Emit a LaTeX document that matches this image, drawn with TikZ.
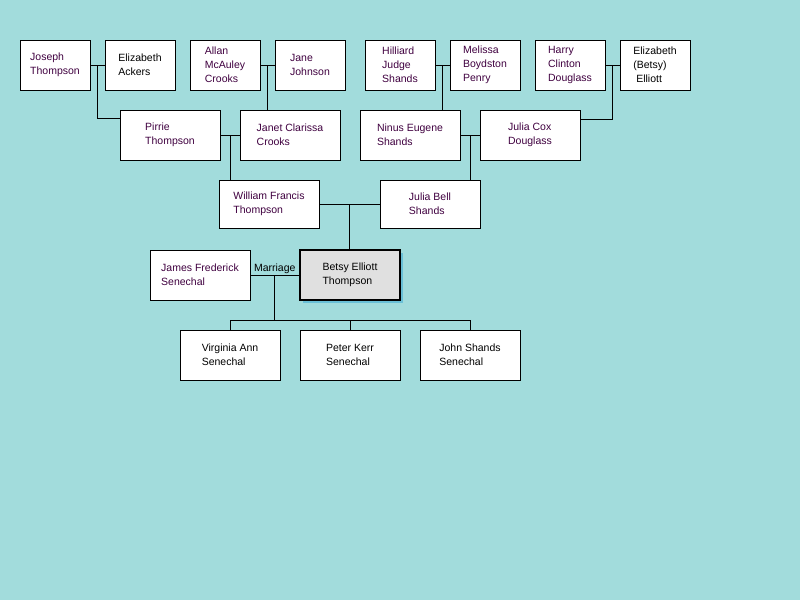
\documentclass[tikz,border=0pt]{standalone}
\usepackage{fontspec}
\setmainfont{Liberation Sans}
\usepackage{tikz}
\usetikzlibrary{positioning,calc,shadows}
\definecolor{bgteal}{RGB}{162,220,220}
\definecolor{namepurple}{RGB}{64,0,64}
\definecolor{shadowblue}{RGB}{100,190,215}

\begin{document}
\begin{tikzpicture}[
    x=1pt, y=-1pt,
    font=\fontsize{10.5}{14}\selectfont,
    person/.style={draw, fill=white, line width=1pt, align=left, minimum width=100pt, minimum height=50pt, inner sep=2pt, text=namepurple},
    elder/.style={person, minimum width=70pt},
    focus/.style={person, fill={rgb,255:red,224;green,224;blue,224}, line width=2pt, text=black,
        drop shadow={shadow xshift=3pt, shadow yshift=-3pt, fill=shadowblue, opacity=0.9}},
    link/.style={line width=1pt}
]
\fill[bgteal] (0,0) rectangle (800,600);
\useasboundingbox (0,0) rectangle (800,600);

% great-grandparents
\node[elder] (joseph) at (55,65) {Joseph\\Thompson};
\node[elder, text=black] (ackers) at (140,65) {Elizabeth\\Ackers};
\node[elder] (allan) at (225,65) {Allan\\McAuley\\Crooks};
\node[elder] (jane) at (310,65) {Jane\\Johnson};
\node[elder] (hilliard) at (400,65) {Hilliard\\Judge\\Shands};
\node[elder] (melissa) at (485,65) {Melissa\\Boydston\\Penry};
\node[elder] (harry) at (570,65) {Harry\\Clinton\\Douglass};
\node[elder, text=black] (elliott) at (655,65) {Elizabeth\\(Betsy)\\\ Elliott};

% grandparents
\node[person] (pirrie) at (170,135) {Pirrie\\Thompson};
\node[person] (janet) at (290,135) {Janet Clarissa\\Crooks};
\node[person] (ninus) at (410,135) {Ninus Eugene\\Shands};
\node[person] (juliacox) at (530,135) {Julia Cox\\Douglass};

% parents
\node[person, minimum height=48pt] (william) at (269,204) {William Francis\\Thompson};
\node[person, minimum height=48pt] (juliabell) at (430,204) {Julia Bell\\Shands};

% couple
\node[person] (james) at (200,275) {James Frederick\\Senechal};
\node[focus] (betsy) at (350,275) {Betsy Elliott\\Thompson};

% children
\node[person, text=black] (virginia) at (230,355) {Virginia Ann\\Senechal};
\node[person, text=black] (peter) at (350,355) {Peter Kerr\\Senechal};
\node[person, text=black] (john) at (470,355) {John Shands\\Senechal};

% marriages
\coordinate (m1) at ($(joseph.east)!0.5!(ackers.west)$);
\coordinate (m2) at ($(allan.east)!0.5!(jane.west)$);
\coordinate (m3) at ($(hilliard.east)!0.5!(melissa.west)$);
\coordinate (m4) at ($(harry.east)!0.5!(elliott.west)$);
\coordinate (m5) at ($(pirrie.east)!0.5!(janet.west)$);
\coordinate (m6) at ($(ninus.east)!0.5!(juliacox.west)$);
\coordinate (m7) at ($(william.east)!0.5!(juliabell.west)$);
\coordinate (m8) at ($(james.east)!0.5!(betsy.west)$);
\coordinate (bus) at ($(m8)+(0,45)$);

\foreach \a/\b in {joseph/ackers, allan/jane, hilliard/melissa, harry/elliott,
    pirrie/janet, ninus/juliacox, william/juliabell, james/betsy}
  \draw[link] (\a.east) -- (\b.west);

\draw[link] (m1) |- ([yshift=17pt]pirrie.west);
\draw[link] (m2) -- (m2 |- janet.north);
\draw[link] (m3) -- (m3 |- ninus.north);
\draw[link] (m4) |- ([yshift=16pt]juliacox.east);
\draw[link] (m5) -- (m5 |- william.north);
\draw[link] (m6) -- (m6 |- juliabell.north);
\draw[link] (m7) -- (m7 |- betsy.north);
\draw[link] (m8) -- (bus);
\draw[link] (virginia.north |- bus) -- (john.north |- bus);
\foreach \c in {virginia, peter, john}
  \draw[link] (\c.north |- bus) -- (\c.north);

\node[above=0pt of m8, inner sep=1pt] (marriage) {Marriage};
\end{tikzpicture}
\end{document}
